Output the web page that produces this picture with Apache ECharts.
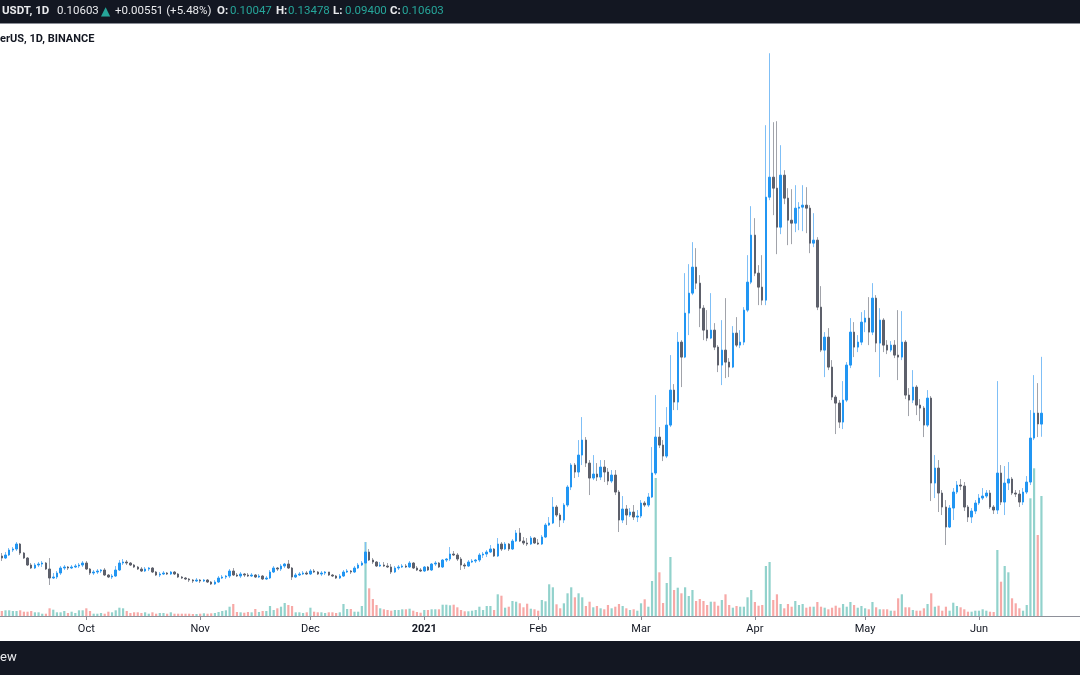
<!DOCTYPE html>
<html><head><meta charset="utf-8">
<script src="https://cdn.jsdelivr.net/npm/echarts@6/dist/echarts.min.js"></script>
<style>html,body{margin:0;padding:0;background:#fff;overflow:hidden}#c{width:1080px;height:675px}</style>
</head><body><div id="c"></div>
<script>
// ---- categories (daily, 2020-09-08 onward; axis runs a few empty days past the last candle) ----
const firstDay = '2020-09-08';
const axisDayCount = 294;
const tickDates = ['2020-10-01','2020-11-01','2020-12-01','2021-01-01','2021-02-01','2021-03-01','2021-04-01','2021-05-01','2021-06-01'];
const tickLabels = ['Oct','Nov','Dec','2021','Feb','Mar','Apr','May','Jun'];

// ---- OHLC (USDT), one entry per day from 2020-09-08 to 2021-06-18 ----
const opens = [
0.03315,0.03213,0.03366,0.03621,0.03672,0.03927,0.03468,0.03213,0.02856,0.02703,
0.02856,0.02907,0.02958,0.02652,0.02193,0.02244,0.02448,0.02703,0.02754,0.02703,
0.02754,0.02805,0.02856,0.02958,0.02652,0.02448,0.02499,0.02550,0.02601,0.02346,
0.02244,0.02295,0.02601,0.02958,0.03009,0.02958,0.02856,0.02754,0.02652,0.02550,
0.02652,0.02703,0.02499,0.02346,0.02397,0.02448,0.02397,0.02499,0.02397,0.02244,
0.02193,0.02142,0.02091,0.02040,0.02091,0.02040,0.02091,0.01989,0.01887,0.01989,
0.02193,0.02244,0.02295,0.02550,0.02346,0.02295,0.02397,0.02346,0.02295,0.02346,
0.02244,0.02295,0.02142,0.02193,0.02499,0.02703,0.02652,0.02805,0.02907,0.02703,
0.02244,0.02346,0.02397,0.02448,0.02397,0.02550,0.02499,0.02397,0.02448,0.02499,
0.02346,0.02295,0.02193,0.02295,0.02499,0.02550,0.02499,0.02703,0.02856,0.02958,
0.03519,0.03111,0.03009,0.02805,0.02856,0.02805,0.02754,0.02499,0.02703,0.02754,
0.02805,0.02754,0.02958,0.02703,0.02601,0.02550,0.02754,0.02601,0.02907,0.02958,
0.02754,0.03111,0.03162,0.03417,0.03366,0.03162,0.02856,0.02805,0.03009,0.03060,
0.03111,0.03366,0.03417,0.03519,0.03672,0.03315,0.03927,0.03672,0.03927,0.03672,
0.04080,0.04488,0.04080,0.03978,0.03927,0.04233,0.03978,0.03927,0.04284,0.04896,
0.04998,0.05814,0.05406,0.05151,0.05916,0.06834,0.07956,0.07599,0.08466,0.09231,
0.08058,0.07293,0.07497,0.07344,0.07854,0.07599,0.07140,0.07446,0.06579,0.05151,
0.05712,0.05406,0.05559,0.05304,0.05355,0.06018,0.05916,0.06324,0.07548,0.09384,
0.08976,0.08415,0.09996,0.11781,0.11169,0.14229,0.13464,0.15708,0.16728,0.18054,
0.17238,0.15963,0.14841,0.14433,0.14841,0.13974,0.13056,0.13821,0.13209,0.12954,
0.14688,0.14076,0.14229,0.15861,0.17289,0.19686,0.17748,0.17034,0.16371,0.21624,
0.22644,0.22083,0.20094,0.22746,0.21573,0.20451,0.20298,0.21063,0.21114,0.21216,
0.21063,0.19278,0.19431,0.16014,0.13821,0.14484,0.12954,0.11424,0.11118,0.10149,
0.11271,0.13056,0.14739,0.13974,0.14229,0.15249,0.15453,0.14739,0.16473,0.14178,
0.15351,0.14076,0.13821,0.14076,0.13566,0.13464,0.14229,0.11526,0.11271,0.11934,
0.11016,0.10863,0.09996,0.11373,0.07038,0.07803,0.06528,0.05814,0.04794,0.05763,
0.06579,0.06936,0.06885,0.05814,0.05304,0.05610,0.06018,0.06273,0.06375,0.06528,
0.05814,0.05661,0.07548,0.06069,0.07038,0.07242,0.06528,0.06477,0.06069,0.06579,
0.07089,0.09333,0.10608,0.10047];
const closes = [
0.03213,0.03366,0.03621,0.03672,0.03927,0.03468,0.03213,0.02856,0.02703,0.02856,
0.02907,0.02958,0.02652,0.02193,0.02244,0.02448,0.02703,0.02754,0.02703,0.02754,
0.02805,0.02856,0.02958,0.02652,0.02448,0.02499,0.02550,0.02601,0.02346,0.02244,
0.02295,0.02601,0.02958,0.03009,0.02958,0.02856,0.02754,0.02652,0.02550,0.02652,
0.02703,0.02499,0.02346,0.02397,0.02448,0.02397,0.02499,0.02397,0.02244,0.02193,
0.02142,0.02091,0.02040,0.02091,0.02040,0.02091,0.01989,0.01887,0.01989,0.02193,
0.02244,0.02295,0.02550,0.02346,0.02295,0.02397,0.02346,0.02295,0.02346,0.02244,
0.02295,0.02142,0.02193,0.02499,0.02703,0.02652,0.02805,0.02907,0.02703,0.02244,
0.02346,0.02397,0.02448,0.02397,0.02550,0.02499,0.02397,0.02448,0.02499,0.02346,
0.02295,0.02193,0.02295,0.02499,0.02550,0.02499,0.02703,0.02856,0.02958,0.03519,
0.03111,0.03009,0.02805,0.02856,0.02805,0.02754,0.02499,0.02703,0.02754,0.02805,
0.02754,0.02958,0.02703,0.02601,0.02550,0.02754,0.02601,0.02907,0.02958,0.02754,
0.03111,0.03162,0.03417,0.03366,0.03162,0.02856,0.02805,0.03009,0.03060,0.03111,
0.03366,0.03417,0.03519,0.03672,0.03315,0.03927,0.03672,0.03927,0.03672,0.04080,
0.04488,0.04080,0.03978,0.03927,0.04233,0.03978,0.03927,0.04284,0.04896,0.04998,
0.05814,0.05406,0.05151,0.05916,0.06834,0.07956,0.07599,0.08466,0.09231,0.08058,
0.07293,0.07497,0.07344,0.07854,0.07599,0.07140,0.07446,0.06579,0.05151,0.05712,
0.05406,0.05559,0.05304,0.05355,0.06018,0.05916,0.06324,0.07548,0.09384,0.08976,
0.08415,0.09996,0.11781,0.11169,0.14229,0.13464,0.15708,0.16728,0.18054,0.17238,
0.15963,0.14841,0.14433,0.14841,0.13974,0.13056,0.13821,0.13209,0.12954,0.14688,
0.14076,0.14229,0.15861,0.17289,0.19686,0.17748,0.17034,0.16371,0.21624,0.22644,
0.22083,0.20094,0.22746,0.21573,0.20451,0.20298,0.21063,0.21114,0.21216,0.21063,
0.19278,0.19431,0.16014,0.13821,0.14484,0.12954,0.11424,0.11118,0.10149,0.11271,
0.13056,0.14739,0.13974,0.14229,0.15249,0.15453,0.14739,0.16473,0.14178,0.15351,
0.14076,0.13821,0.14076,0.13566,0.13464,0.14229,0.11526,0.11271,0.11934,0.11016,
0.10863,0.09996,0.11373,0.07038,0.07803,0.06528,0.05814,0.04794,0.05763,0.06579,
0.06936,0.06885,0.05814,0.05304,0.05610,0.06018,0.06273,0.06375,0.06528,0.05814,
0.05661,0.07548,0.06069,0.07038,0.07242,0.06528,0.06477,0.06069,0.06579,0.07089,
0.09333,0.10608,0.10052,0.10603];
const lows = [
0.03060,0.03162,0.03315,0.03519,0.03570,0.03366,0.03162,0.02805,0.02652,0.02652,
0.02754,0.02754,0.02601,0.01836,0.02142,0.02142,0.02346,0.02601,0.02601,0.02652,
0.02703,0.02703,0.02754,0.02601,0.02346,0.02346,0.02397,0.02448,0.02295,0.02193,
0.02142,0.02244,0.02550,0.02856,0.02856,0.02805,0.02703,0.02601,0.02499,0.02499,
0.02550,0.02448,0.02295,0.02244,0.02346,0.02346,0.02346,0.02346,0.02193,0.02142,
0.02091,0.01989,0.01938,0.01989,0.01938,0.01989,0.01938,0.01836,0.01836,0.01938,
0.02142,0.02142,0.02193,0.02295,0.02244,0.02193,0.02244,0.02244,0.02244,0.02193,
0.02193,0.02091,0.02091,0.02142,0.02448,0.02550,0.02550,0.02703,0.02652,0.02091,
0.02193,0.02295,0.02346,0.02346,0.02346,0.02448,0.02346,0.02295,0.02346,0.02295,
0.02244,0.02142,0.02142,0.02244,0.02448,0.02397,0.02448,0.02652,0.02805,0.02907,
0.03060,0.02907,0.02754,0.02754,0.02754,0.02703,0.02397,0.02448,0.02601,0.02703,
0.02703,0.02703,0.02652,0.02550,0.02499,0.02499,0.02550,0.02550,0.02805,0.02703,
0.02703,0.03009,0.03060,0.03315,0.03060,0.02601,0.02652,0.02754,0.02958,0.02958,
0.03009,0.03213,0.03264,0.03468,0.03264,0.03264,0.03570,0.03621,0.03570,0.03621,
0.04029,0.04029,0.03876,0.03825,0.03876,0.03927,0.03876,0.03876,0.04233,0.04845,
0.04947,0.05304,0.04794,0.04998,0.05814,0.06681,0.07293,0.07344,0.07956,0.07854,
0.06426,0.07191,0.07140,0.07191,0.07089,0.06936,0.07038,0.06426,0.04539,0.04998,
0.04896,0.05304,0.05151,0.05049,0.05253,0.05814,0.05814,0.06273,0.07446,0.08823,
0.08160,0.08313,0.09894,0.10761,0.10761,0.11934,0.13413,0.14586,0.16626,0.16932,
0.14994,0.14331,0.14280,0.14382,0.13821,0.12699,0.12036,0.12393,0.12444,0.12903,
0.13974,0.13923,0.14076,0.15759,0.17187,0.17595,0.16116,0.16116,0.16116,0.21471,
0.20706,0.18717,0.19737,0.21267,0.19176,0.19227,0.19839,0.19941,0.19890,0.19788,
0.18768,0.19074,0.15861,0.13719,0.12444,0.12801,0.11271,0.09537,0.09843,0.09792,
0.11169,0.12903,0.13464,0.13719,0.14076,0.14739,0.14076,0.14586,0.13719,0.12444,
0.13719,0.13617,0.13719,0.13413,0.12291,0.13311,0.11322,0.10455,0.11118,0.10506,
0.10200,0.09384,0.09894,0.06120,0.06273,0.05559,0.05406,0.03876,0.04743,0.05151,
0.06477,0.06681,0.05610,0.05049,0.04998,0.05457,0.05916,0.06171,0.06273,0.05712,
0.05457,0.05457,0.05916,0.05406,0.06681,0.06426,0.06324,0.05814,0.05916,0.06477,
0.06936,0.09231,0.09384,0.09400];
const highs = [
0.03468,0.03519,0.03723,0.03774,0.04029,0.03978,0.03519,0.03264,0.02958,0.02958,
0.03009,0.03060,0.03009,0.03213,0.02448,0.02550,0.02805,0.02856,0.02805,0.02856,
0.02907,0.02958,0.03060,0.03060,0.02703,0.02601,0.02652,0.02652,0.02703,0.02397,
0.02397,0.02805,0.03111,0.03162,0.03111,0.03009,0.02907,0.02805,0.02754,0.02754,
0.02754,0.02754,0.02550,0.02499,0.02550,0.02499,0.02550,0.02550,0.02448,0.02295,
0.02244,0.02193,0.02142,0.02193,0.02142,0.02142,0.02142,0.02040,0.02091,0.02295,
0.02346,0.02346,0.02652,0.02703,0.02448,0.02499,0.02448,0.02448,0.02448,0.02397,
0.02397,0.02346,0.02295,0.02601,0.02805,0.02754,0.02907,0.02958,0.03111,0.02754,
0.02448,0.02499,0.02550,0.02550,0.02652,0.02652,0.02550,0.02550,0.02550,0.02499,
0.02397,0.02346,0.02397,0.02601,0.02652,0.02601,0.02805,0.02958,0.03060,0.04029,
0.03672,0.03213,0.03060,0.03009,0.03009,0.02958,0.02907,0.02805,0.02856,0.02907,
0.02907,0.03060,0.03009,0.02805,0.02703,0.02805,0.02805,0.02958,0.03060,0.03009,
0.03162,0.03213,0.03774,0.03570,0.03468,0.03264,0.02958,0.03111,0.03162,0.03162,
0.03468,0.03519,0.03621,0.03876,0.03723,0.04233,0.04029,0.04029,0.03978,0.04182,
0.04641,0.04743,0.04284,0.04233,0.04335,0.04284,0.04182,0.04386,0.04998,0.05304,
0.06324,0.05916,0.05508,0.06018,0.06936,0.08058,0.08058,0.09231,0.10404,0.09384,
0.08211,0.08466,0.08058,0.08211,0.08211,0.07803,0.07701,0.07701,0.06681,0.06375,
0.05916,0.05763,0.05916,0.05661,0.06171,0.06120,0.06528,0.08874,0.11526,0.09894,
0.09231,0.10914,0.13566,0.12087,0.14739,0.14331,0.17748,0.18207,0.19329,0.19023,
0.17646,0.16116,0.15861,0.16728,0.15198,0.14076,0.15351,0.16473,0.13413,0.15045,
0.15504,0.14841,0.16014,0.18666,0.21165,0.20553,0.18156,0.18666,0.25296,0.28968,
0.25449,0.25500,0.24276,0.23001,0.22083,0.22032,0.22236,0.21369,0.22236,0.22134,
0.21216,0.20808,0.19584,0.17085,0.14739,0.14943,0.13311,0.11526,0.11271,0.12240,
0.13209,0.15453,0.15249,0.14586,0.15759,0.15861,0.16524,0.17238,0.16626,0.15963,
0.15453,0.14331,0.14280,0.14331,0.15861,0.15810,0.14331,0.11883,0.12801,0.12036,
0.11322,0.10965,0.11781,0.11475,0.08466,0.08211,0.06681,0.06171,0.05916,0.06783,
0.07140,0.07242,0.07089,0.05916,0.05763,0.06171,0.06477,0.06783,0.06681,0.06681,
0.05916,0.12240,0.07956,0.07905,0.08109,0.07344,0.06681,0.06681,0.06783,0.07395,
0.10761,0.12546,0.12138,0.13478];
// ---- daily volume (millions) ----
const volumes = [
5,5.7,5.7,5,5,5.7,4.3,4.3,5,3.7,
3.7,2.3,2.3,7.7,6.3,3.7,3.7,5,3,4.3,
3,5.7,5.7,7.7,5,2.3,2.3,3,2.3,4.3,
3.7,5.7,8.3,7.7,5,3,3.7,3.7,3,3.7,
2.3,3.7,2.3,3,3,2.3,3.7,2.3,2.3,2.3,
2.3,2.3,2,2,2.3,2.7,2.3,2.7,3,4,
5,5.7,9.3,12,4,3.7,3.3,4,3.7,7,
4,5,5,10,6,7.7,9.3,13,11,10,
3.7,3.7,3,3.7,8.3,4.3,3.7,3.7,3,3.7,
3.7,3,3.7,12,7,7,4.3,4.3,10,74,
27.7,17,11,7.7,6.7,6,5.3,6,6,6.7,
6.7,7.3,5.3,4,3.3,6,6,6.7,6.7,6.7,
11.3,11.3,10.7,11.3,8.7,6,4.7,4.7,5.3,6,
9.3,6,10,10,6,21.7,20.3,8.3,9.3,15,
14.3,12.7,8.7,12.3,7.3,6.7,5.3,16,14.7,31.7,
28.7,11.7,7.7,12.7,22.7,28.7,18.7,22.7,18.7,10,
14.3,8.7,10,7.7,6.7,11,7.7,9.3,12,10,
7.7,6,6.7,5.3,12.7,16.7,9.3,35,138,43.7,
13,33,59,26,28.3,22.7,28.7,20,26,15,
17,15,11,14.3,14.3,10.3,16,21.7,11,8.3,
10,9.3,9.3,18.7,26,14,10.3,11,50,54,
16,21.7,12,7.7,12,9.3,15,11,12,8.3,
9.3,9.3,14,9.3,8.3,6.7,8.3,10.3,8.3,12,
9.3,14,11,8.3,10,7.7,6.7,14,8.7,6.7,
6.7,6.7,5.3,5.3,17.7,21.7,8.7,8.7,6,5.3,
5.3,7.7,12,22.7,9.3,10.3,5.3,9.3,5.3,13.3,
10,8.7,6.7,4.3,4.3,5.3,5.3,6.7,5.3,4.3,
4,66,34.3,50,43.7,17.7,12.7,7.7,5.3,11,
117.7,147.7,81,120];

// ---- build categories ----
const dates = [];
{
  const d0 = new Date(firstDay + 'T00:00:00Z');
  for (let i = 0; i < axisDayCount; i++) {
    const d = new Date(d0.getTime() + i * 86400000);
    dates.push(d.toISOString().slice(0, 10));
  }
}

const UP = '#2196f3', DN = '#5d606b';
const UP_WICK = '#7fbff6', DN_WICK = '#a1a3aa';
const VOL_UP = '#92d2cc', VOL_DN = '#f7a9a7';
const FONT = 'Roboto, "DejaVu Sans", sans-serif';

const wickData = opens.map((o, i) => [o, closes[i], lows[i], highs[i]]);
const bodyData = opens.map((o, i) => [o, closes[i], Math.min(o, closes[i]), Math.max(o, closes[i])]);
const volData = volumes.map((v, i) => ({
  value: v,
  itemStyle: { color: closes[i] >= opens[i] ? VOL_UP : VOL_DN }
}));

const isTick = (idx, val) => tickDates.indexOf(val) >= 0;

// header text values from the data
const n = closes.length;
const lastC = closes[n - 1], prevC = closes[n - 2];
const chg = lastC - prevC;
const pct = chg / prevC * 100;

const WHITE = '#e9eaed', TEAL = '#26a69a';
const HF = '11.5px ' + FONT, HFB = 'bold 11.5px ' + FONT;
function txt(x, y, s, color, font) {
  return { type: 'text', x: x, y: y, silent: true,
    style: { text: s, fill: color, font: font, verticalAlign: 'middle', align: 'left' } };
}

const chart = echarts.init(document.getElementById('c'), null, { renderer: 'canvas' });
chart.setOption({
  animation: false,
  backgroundColor: '#ffffff',
  grid: [
    { left: 0, right: 0, top: 33, bottom: 54 },
    { left: 0, right: 0, top: 416, bottom: 59 }
  ],
  xAxis: [
    { type: 'category', gridIndex: 0, data: dates, boundaryGap: true,
      axisLine: { show: false }, axisTick: { show: false }, axisLabel: { show: false }, splitLine: { show: false } },
    { type: 'category', gridIndex: 1, data: dates, boundaryGap: true,
      axisLine: { show: true, lineStyle: { color: '#8e9099', width: 1 } },
      axisTick: { show: true, interval: isTick, alignWithLabel: true, length: 4, lineStyle: { color: '#8e9099' } },
      axisLabel: { show: true, interval: isTick, margin: 8, color: '#131722', fontSize: 11, fontFamily: FONT,
        formatter: function (val) {
          const k = tickDates.indexOf(val);
          if (k < 0) return '';
          return tickLabels[k] === '2021' ? '{b|2021}' : tickLabels[k];
        },
        rich: { b: { fontWeight: 'bold', color: '#131722', fontSize: 11, fontFamily: FONT } } },
      splitLine: { show: false } }
  ],
  yAxis: [
    { type: 'value', gridIndex: 0, min: 0, max: 0.3, show: false, splitLine: { show: false } },
    { type: 'value', gridIndex: 1, min: 0, max: 200, show: false, splitLine: { show: false } }
  ],
  series: [
    { type: 'bar', xAxisIndex: 1, yAxisIndex: 1, data: volData, barWidth: '60%', silent: true },
    { type: 'candlestick', xAxisIndex: 0, yAxisIndex: 0, data: wickData, barWidth: 1, silent: true,
      itemStyle: { color: UP_WICK, color0: DN_WICK, borderColor: UP_WICK, borderColor0: DN_WICK, borderWidth: 1 } },
    { type: 'candlestick', xAxisIndex: 0, yAxisIndex: 0, data: bodyData, barWidth: 2, silent: true,
      itemStyle: { color: UP, color0: DN, borderColor: UP, borderColor0: DN, borderWidth: 1 } }
  ],
  graphic: [
    { type: 'rect', shape: { x: 0, y: 0, width: 1080, height: 23 }, style: { fill: '#131722' }, silent: true },
    { type: 'rect', shape: { x: 0, y: 23, width: 1080, height: 1 }, style: { fill: '#8a8d96' }, silent: true },
    txt(2, 11.5, 'USDT, 1D', WHITE, HFB),
    txt(57, 11.5, lastC.toFixed(5), WHITE, HF),
    txt(101, 11.5, '\u25B2', TEAL, '12px "DejaVu Sans", sans-serif'),
    txt(115, 11.5, (chg >= 0 ? '+' : '') + chg.toFixed(5) + ' (' + (pct >= 0 ? '+' : '') + pct.toFixed(2) + '%)', WHITE, HF),
    txt(217, 11.5, 'O:', WHITE, HFB),
    txt(230, 11.5, opens[n - 1].toFixed(5), TEAL, HF),
    txt(276, 11.5, 'H:', WHITE, HFB),
    txt(288, 11.5, highs[n - 1].toFixed(5), TEAL, HF),
    txt(333, 11.5, 'L:', WHITE, HFB),
    txt(345, 11.5, lows[n - 1].toFixed(5), TEAL, HF),
    txt(390, 11.5, 'C:', WHITE, HFB),
    txt(402, 11.5, lastC.toFixed(5), TEAL, HF),
    txt(0, 39, 'erUS, 1D, BINANCE', '#131722', 'bold 11px ' + FONT),
    { type: 'rect', shape: { x: 0, y: 641, width: 1080, height: 34 }, style: { fill: '#131722' }, silent: true },
    txt(0, 658, 'ew', '#e9eaed', '13px ' + FONT)
  ]
});
</script>
</body></html>
